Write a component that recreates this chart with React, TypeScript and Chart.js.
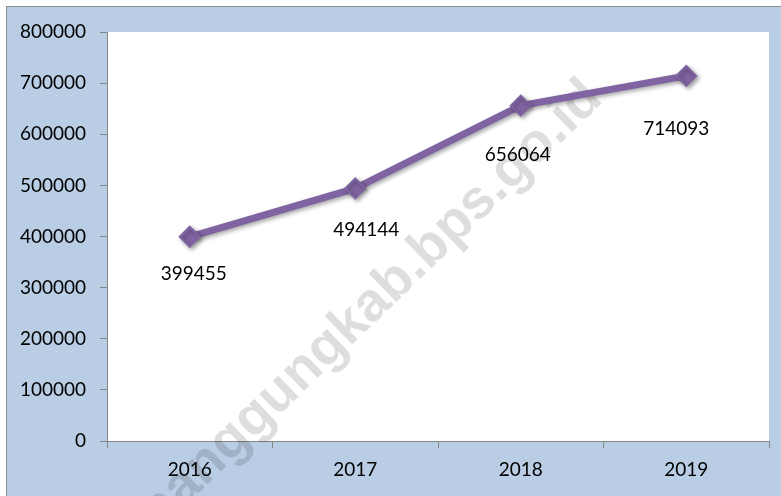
import React, { useEffect, useRef } from "react";
import { Chart, registerables } from "chart.js";

Chart.register(...registerables);

// ---- data ----
const years: string[] = ["2016", "2017", "2018", "2019"];
const values: number[] = [399455, 494144, 656064, 714093];
const yMin = 0;
const yMax = 800000;
const yStep = 100000;
const watermarkText = "temanggungkab.bps.go.id";

// ---- style / layout ----
const labelOffsets: [number, number][] = [
  [4, 37],
  [11, 42],
  [-3, 49],
  [-10, 53],
];
const FONT = "Lato, 'Open Sans', sans-serif";
const FONT_SIZE = 19;
const BLUE = "#b9cde5";
const PURPLE = "#8064a2";
const AXIS_GRAY = "#868686";

const backgroundPlugin = {
  id: "bgPlugin",
  beforeDraw(chart: any) {
    const { ctx, width, height, chartArea } = chart;
    ctx.save();
    ctx.fillStyle = "#ffffff";
    ctx.fillRect(0, 0, width, height);
    ctx.fillStyle = "#8c8c8c";
    ctx.fillRect(6, 6, width - 6, 1);
    ctx.fillRect(6, 6, 1, height - 6);
    ctx.fillStyle = BLUE;
    ctx.fillRect(7, 7, width - 7, height - 7);
    ctx.fillStyle = "#ffffff";
    ctx.fillRect(
      chartArea.left,
      chartArea.top,
      chartArea.right - chartArea.left,
      chartArea.bottom - chartArea.top
    );
    ctx.restore();
  },
  beforeDatasetsDraw(chart: any) {
    const { ctx } = chart;
    ctx.save();
    ctx.font = `bold 55px 'Liberation Sans', Arial, sans-serif`;
    ctx.fillStyle = "rgba(0,0,0,0.13)";
    ctx.textAlign = "right";
    ctx.textBaseline = "middle";
    ctx.translate(594, 90);
    ctx.rotate((-44 * Math.PI) / 180);
    ctx.fillText(watermarkText, 0, 0);
    ctx.restore();
  },
  beforeDatasetDraw(chart: any) {
    const { ctx } = chart;
    ctx.save();
    ctx.shadowColor = "rgba(0,0,0,0.35)";
    ctx.shadowBlur = 4;
    ctx.shadowOffsetX = 2;
    ctx.shadowOffsetY = 2;
  },
  afterDatasetDraw(chart: any) {
    chart.ctx.restore();
  },
  afterDatasetsDraw(chart: any) {
    const { ctx } = chart;
    const meta = chart.getDatasetMeta(0);
    ctx.save();
    ctx.font = `${FONT_SIZE}px ${FONT}`;
    ctx.fillStyle = "#000000";
    ctx.textAlign = "center";
    ctx.textBaseline = "middle";
    meta.data.forEach((el: any, i: number) => {
      const [dx, dy] = labelOffsets[i] || [0, 40];
      ctx.fillText(String(values[i]), el.x + dx, el.y + dy);
    });
    ctx.restore();
  },
};

export default function App() {
  const canvasRef = useRef<HTMLCanvasElement | null>(null);

  useEffect(() => {
    document.body.style.margin = "0";
    const canvas = canvasRef.current;
    if (!canvas) return;
    const chart = new Chart(canvas, {
      type: "line",
      data: {
        labels: years,
        datasets: [
          {
            data: values,
            borderColor: PURPLE,
            backgroundColor: PURPLE,
            borderWidth: 7,
            tension: 0,
            pointStyle: "rectRot",
            pointRadius: 10,
            pointBorderWidth: 2,
            pointBackgroundColor: PURPLE,
            pointBorderColor: PURPLE,
            fill: false,
          },
        ],
      },
      options: {
        responsive: false,
        animation: false,
        devicePixelRatio: 1,
        layout: { padding: { left: 7, top: 32, right: 11, bottom: 0 } },
        plugins: {
          legend: { display: false },
          tooltip: { enabled: false },
        },
        scales: {
          x: {
            type: "category",
            offset: true,
            grid: {
              offset: true,
              drawOnChartArea: false,
              drawTicks: true,
              tickLength: 7,
              color: AXIS_GRAY,
            },
            border: { display: true, color: AXIS_GRAY, width: 1 },
            ticks: {
              color: "#000000",
              font: { family: FONT, size: FONT_SIZE },
              padding: 10,
              maxRotation: 0,
            },
            afterFit(scale: any) {
              scale.height = 55;
            },
          },
          y: {
            min: yMin,
            max: yMax,
            grid: {
              drawOnChartArea: false,
              drawTicks: true,
              tickLength: 7,
              color: AXIS_GRAY,
            },
            border: { display: true, color: AXIS_GRAY, width: 1 },
            ticks: {
              stepSize: yStep,
              color: "#000000",
              font: { family: FONT, size: FONT_SIZE },
              padding: 14,
              callback: (v: any) => String(v),
            },
            afterFit(scale: any) {
              scale.width = 100;
            },
          },
        },
      },
      plugins: [backgroundPlugin],
    });
    return () => chart.destroy();
  }, []);

  return (
    <div style={{ width: 781, height: 496 }}>
      <canvas ref={canvasRef} width={781} height={496} style={{ display: "block" }} />
    </div>
  );
}
